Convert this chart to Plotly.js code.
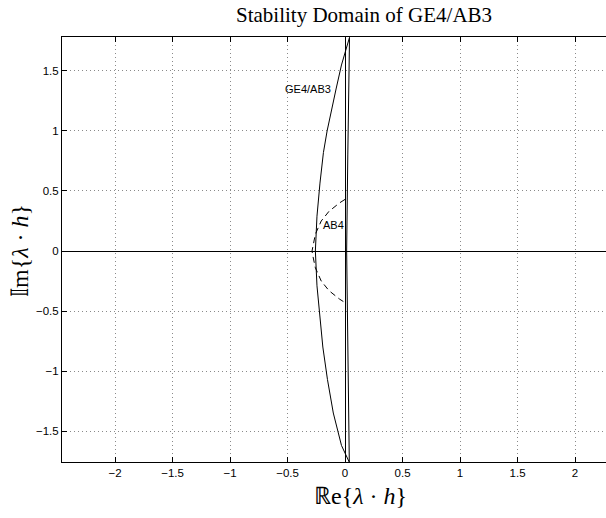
<!DOCTYPE html>
<html>
<head>
<meta charset="utf-8">
<script src="https://cdn.plot.ly/plotly-3.0.1.min.js"></script>
<style>html,body{margin:0;padding:0;background:#fff;}#chart{width:606px;height:518px;}</style>
</head>
<body>
<div id="chart"></div>
<script>
// GE4/AB3 stability boundary: left arc (top -> bottom)
const geArcRe = [0.039, -0.031, -0.078, -0.156, -0.188, -0.218, -0.244, -0.258, -0.244, -0.218, -0.193, -0.153, -0.102, -0.031, 0.037];
const geArcIm = [1.78, 1.55, 1.35, 1.00, 0.82, 0.566, 0.29, 0.00, -0.29, -0.566, -0.80, -1.07, -1.35, -1.62, -1.76];
// GE4/AB3 stability boundary: right branch near imaginary axis (bottom -> top)
const geRightRe = [0.037, 0.024, 0.014, 0.024, 0.039];
const geRightIm = [-1.76, -0.80, 0.00, 0.80, 1.78];
// AB4 stability boundary (dashed)
const ab4Re = [0.000, -0.049, -0.140, -0.207, -0.258, -0.280, -0.287, -0.280, -0.258, -0.207, -0.140, -0.049, 0.000];
const ab4Im = [0.43, 0.40, 0.33, 0.25, 0.14, 0.04, 0.00, -0.04, -0.14, -0.25, -0.33, -0.40, -0.43];

const xTickVals = [-2, -1.5, -1, -0.5, 0, 0.5, 1, 1.5, 2];
const xTickText = ['\u22122', '\u22121.5', '\u22121', '\u22120.5', '0', '0.5', '1', '1.5', '2'];
const yTickVals = [-1.5, -1, -0.5, 0, 0.5, 1, 1.5];
const yTickText = ['\u22121.5', '\u22121', '\u22120.5', '0', '0.5', '1', '1.5'];

const lineStyle = {color: '#000', width: 1};
const traces = [
  {x: geArcRe, y: geArcIm, mode: 'lines', line: lineStyle, hoverinfo: 'skip'},
  {x: geRightRe, y: geRightIm, mode: 'lines', line: lineStyle, hoverinfo: 'skip'},
  {x: ab4Re, y: ab4Im, mode: 'lines', line: {color: '#000', width: 1, dash: '6px,4px'}, hoverinfo: 'skip'}
];

const tickFont = {family: 'Liberation Sans, Arial, sans-serif', size: 11.5, color: '#000'};
const axisCommon = {
  showline: true, linecolor: '#000', linewidth: 1,
  ticks: 'inside', ticklen: 5, tickcolor: '#000', tickwidth: 1,
  showgrid: true, gridcolor: '#8a8a8a', griddash: '1px,3px', gridwidth: 1,
  zeroline: true, zerolinecolor: '#000', zerolinewidth: 1,
  tickfont: tickFont, tickmode: 'array'
};
const serif = 'Liberation Serif, Times New Roman, serif';

const layout = {
  width: 606, height: 518,
  margin: {l: 62, r: 0, t: 37, b: 56},
  paper_bgcolor: '#fff', plot_bgcolor: '#fff',
  showlegend: false,
  xaxis: Object.assign({}, axisCommon, {
    range: [-2.461, 2.269], tickvals: xTickVals, ticktext: xTickText, mirror: 'ticks'
  }),
  yaxis: Object.assign({}, axisCommon, {
    range: [-1.758, 1.783], tickvals: yTickVals, ticktext: yTickText, mirror: false
  }),
  annotations: [
    {xref: 'paper', yref: 'paper', x: (364 - 62) / 544, y: 1 + (37 - 15) / 425, xanchor: 'center', yanchor: 'middle',
     text: 'Stability Domain of GE4/AB3', showarrow: false, font: {family: serif, size: 21, color: '#000'}},
    {xref: 'paper', yref: 'paper', x: (360 - 62) / 544, y: -(496 - 462) / 425, xanchor: 'center', yanchor: 'middle',
     text: '\u211De{<i>\u03BB</i> \u00B7 <i>h</i>}', showarrow: false, font: {family: serif, size: 24, color: '#000'}},
    {xref: 'paper', yref: 'paper', x: -(62 - 20) / 544, y: (462 - 251) / 425, xanchor: 'center', yanchor: 'middle', textangle: -90,
     text: '\uD835\uDD40m{<i>\u03BB</i> \u00B7 <i>h</i>}', showarrow: false, font: {family: serif, size: 24, color: '#000'}},
    {x: -0.32, y: 1.35, xref: 'x', yref: 'y', text: 'GE4/AB3', showarrow: false, font: {family: 'Liberation Sans, Arial, sans-serif', size: 11, color: '#000'}},
    {x: -0.10, y: 0.213, xref: 'x', yref: 'y', text: 'AB4', showarrow: false, font: {family: 'Liberation Sans, Arial, sans-serif', size: 11, color: '#000'}}
  ]
};

Plotly.newPlot('chart', traces, layout, {displayModeBar: false, staticPlot: true});
</script>
</body>
</html>
